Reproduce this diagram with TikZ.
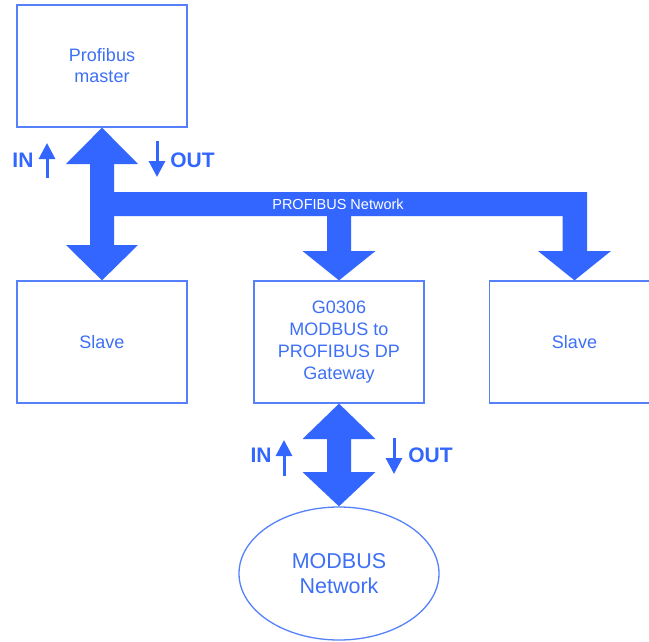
\documentclass[tikz,border=0pt]{standalone}
\usepackage{fontspec}
\setmainfont{Liberation Sans}
\usetikzlibrary{arrows.meta,shapes.geometric}
\definecolor{busblue}{RGB}{51,102,255}
\definecolor{txtblue}{RGB}{62,112,245}
\definecolor{lineblue}{RGB}{85,130,250}
\begin{document}
\begin{tikzpicture}[x=1pt,y=-1pt,
 box/.style={draw=lineblue, line width=1.3pt, minimum width=170pt, minimum height=122pt, inner sep=0pt, align=center, text=txtblue, font=\fontsize{18}{22}\selectfont},
 busfill/.style={fill=busblue},
 lbl/.style={text=busblue, font=\bfseries\fontsize{21}{21}\selectfont, inner sep=0pt},
 smallarrow/.style={draw=busblue, line width=3pt, -{Triangle[length=16pt,width=16pt]}}
]
\useasboundingbox (0,0) rectangle (649,641);
\clip (0,0) rectangle (649,641);
\fill[white] (0,0) rectangle (649,641);

\node[box, font=\fontsize{18}{21}\selectfont] (m) at (102,66) {Profibus\\master};
\node[box] (s1) at (102,342) {Slave};
\node[box] (gw) at (339,342) {G0306\\MODBUS to\\PROFIBUS DP\\Gateway};
\node[box] (s2) at (574.5,342) {Slave};
\node[ellipse, draw=lineblue, line width=1.3pt, minimum width=200pt, minimum height=133pt, inner sep=0pt, align=center, text=txtblue, font=\fontsize{21.5}{24.5}\selectfont] (mb) at (339,573.5) {MODBUS\\Network};

% upper double arrow
\fill[busfill] (m.south) -- (138,164) -- (114,164) -- (114,245) -- (138,245) -- (s1.north)
  -- (66,245) -- (90,245) -- (90,164) -- (66,164) -- cycle;
% bus with branches
\fill[busfill] (110,192) -- (587,192) -- (587,251) -- (611,251) -- (s2.north) -- (538,251)
  -- (562.5,251) -- (562.5,216) -- (351,216) -- (351,251) -- (375.5,251) -- (gw.north)
  -- (302.5,251) -- (327,251) -- (327,216) -- (110,216) -- cycle;
\node[text=white, font=\fontsize{14.5}{14.5}\selectfont, inner sep=0pt] (net) at (338,204) {PROFIBUS Network};
% lower double arrow
\fill[busfill] (gw.south) -- (375.5,439) -- (351,439) -- (351,472) -- (375.5,472) -- (mb.north)
  -- (302.5,472) -- (327,472) -- (327,439) -- (302.5,439) -- cycle;

% IN / OUT labels
\node[lbl] (in1) at (23,160) {IN};
\node[lbl] (out1) at (192.5,160) {OUT};
\node[lbl] (in2) at (261,455.5) {IN};
\node[lbl] (out2) at (430.5,455.5) {OUT};
\coordinate (a1s) at (47,178); \coordinate (a1e) at (47,143);
\coordinate (a2s) at (157,141); \coordinate (a2e) at (157,177);
\coordinate (a3s) at (284,476); \coordinate (a3e) at (284,440);
\coordinate (a4s) at (394,438); \coordinate (a4e) at (394,474);
\draw[smallarrow] (a1s) -- (a1e);
\draw[smallarrow] (a2s) -- (a2e);
\draw[smallarrow] (a3s) -- (a3e);
\draw[smallarrow] (a4s) -- (a4e);
\end{tikzpicture}
\end{document}
